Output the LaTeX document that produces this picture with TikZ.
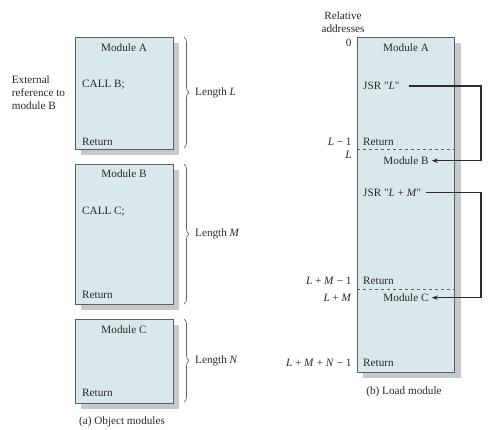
\documentclass[tikz,border=0pt]{standalone}
\usepackage{fontspec}
\setmainfont{Liberation Serif}
\usetikzlibrary{decorations.pathreplacing,arrows.meta}
\definecolor{boxfill}{RGB}{217,233,235}
\definecolor{boxline}{RGB}{90,95,97}
\definecolor{shadowgray}{RGB}{200,200,200}
\definecolor{bracegray}{RGB}{100,100,100}
\definecolor{conngray}{RGB}{45,45,45}
\definecolor{txtgray}{RGB}{40,40,40}
\begin{document}
\begin{tikzpicture}[x=1pt,y=-1pt,
  font=\fontsize{11.2}{13}\selectfont, text=txtgray,
  modbox/.style={draw=boxline, fill=boxfill, line width=0.9pt, inner sep=0pt, anchor=north west},
  shadowbox/.style={fill=shadowgray},
  txtw/.style={inner sep=0pt, anchor=west},
  txte/.style={inner sep=0pt, anchor=east},
  txtc/.style={inner sep=0pt, anchor=center},
  brc/.style={decorate, decoration={brace, amplitude=5pt}, draw=bracegray, line width=0.7pt},
  sep/.style={draw=boxline, dashed, line width=0.7pt},
  conn/.style={draw=conngray, line width=1.3pt, -{Stealth[length=6pt,width=4.5pt]}}
]
\useasboundingbox (0,0) rectangle (494,429);

% ---------- (a) object modules ----------
\fill[shadowbox] (81,43) rectangle (179,155);
\node[modbox, minimum width=97.7pt, minimum height=112.3pt] (objA) at (75,36.7) {};
\fill[shadowbox] (81,170) rectangle (179,310);
\node[modbox, minimum width=97.7pt, minimum height=140.3pt] (objB) at (75,164) {};
\fill[shadowbox] (81,325) rectangle (179,408.7);
\node[modbox, minimum width=97.7pt, minimum height=83.7pt] (objC) at (75,319) {};

\node[txtc] (aA) at (124,47.7) {Module A};
\node[txtw] (aCall) at (82,85) {CALL B;};
\node[txtw] (aRet) at (82,141.7) {Return};
\node[txtc] (bB) at (124,174) {Module B};
\node[txtw] (bCall) at (82,211.7) {CALL C;};
\node[txtw] (bRet) at (82,295) {Return};
\node[txtc] (cC) at (124,330) {Module C};
\node[txtw] (cRet) at (82,392.7) {Return};

\node[txtw, align=left] (ext) at (11.7,93) {External\\reference to\\module B};

\draw[brc] (184,37) -- (184,148) coordinate[midway] (brA);
\draw[brc] (184,164) -- (184,304) coordinate[midway] (brB);
\draw[brc] (184,319) -- (184,402) coordinate[midway] (brC);
\node[txtw] (lenL) at (195,93) {Length \textit{L}};
\node[txtw] (lenM) at (195,234) {Length \textit{M}};
\node[txtw] (lenN) at (195,360.5) {Length \textit{N}};

\node[txtc] (capA) at (122,421.7) {(a) Object modules};

% ---------- (b) load module ----------
\fill[shadowbox] (363.3,42.7) rectangle (460.7,378.3);
\node[modbox, minimum width=96.7pt, minimum height=335.6pt] (load) at (357.3,36.7) {};
\draw[sep] (load.west |- 0,149) -- (load.east |- 0,149);
\draw[sep] (load.west |- 0,289) -- (load.east |- 0,289);

\node[txtc, align=center] (rel) at (343,22) {Relative\\addresses};
\node[txte] (a0) at (351.7,42.7) {0};
\node[txte] (aL1) at (351.7,141.7) {\textit{L} − 1};
\node[txte] (aL) at (351.7,155) {\textit{L}};
\node[txte] (aLM1) at (351.7,280.7) {\textit{L} + \textit{M} − 1};
\node[txte] (aLM) at (351.7,297.7) {\textit{L} + \textit{M}};
\node[txte] (aLMN1) at (351.7,363) {\textit{L} + \textit{M} + \textit{N} − 1};

\node[txtc] (lA) at (406,47.7) {Module A};
\node[txtw] (jsrA) at (363,86) {JSR \textquotedbl\textit{L}\textquotedbl};
\node[txtw] (lRetA) at (363,141.7) {Return};
\node[txtc] (lB) at (406,160.7) {Module B};
\node[txtw] (jsrB) at (363,192.7) {JSR \textquotedbl\textit{L} + \textit{M}\textquotedbl};
\node[txtw] (lRetB) at (363,280.7) {Return};
\node[txtc] (lC) at (406,297.7) {Module C};
\node[txtw] (lRetC) at (363,363) {Return};

\node[txtc] (capB) at (404,392) {(b) Load module};

\coordinate (busA) at (481,0);
\draw[conn, shorten <=9pt, shorten >=3pt] (jsrA.east) -- (jsrA.east -| busA) -- (busA |- lB.east) -- (lB.east);
\draw[conn, shorten <=5pt, shorten >=3pt] (jsrB.east) -- (jsrB.east -| busA) -- (busA |- lC.east) -- (lC.east);
\end{tikzpicture}
\end{document}
